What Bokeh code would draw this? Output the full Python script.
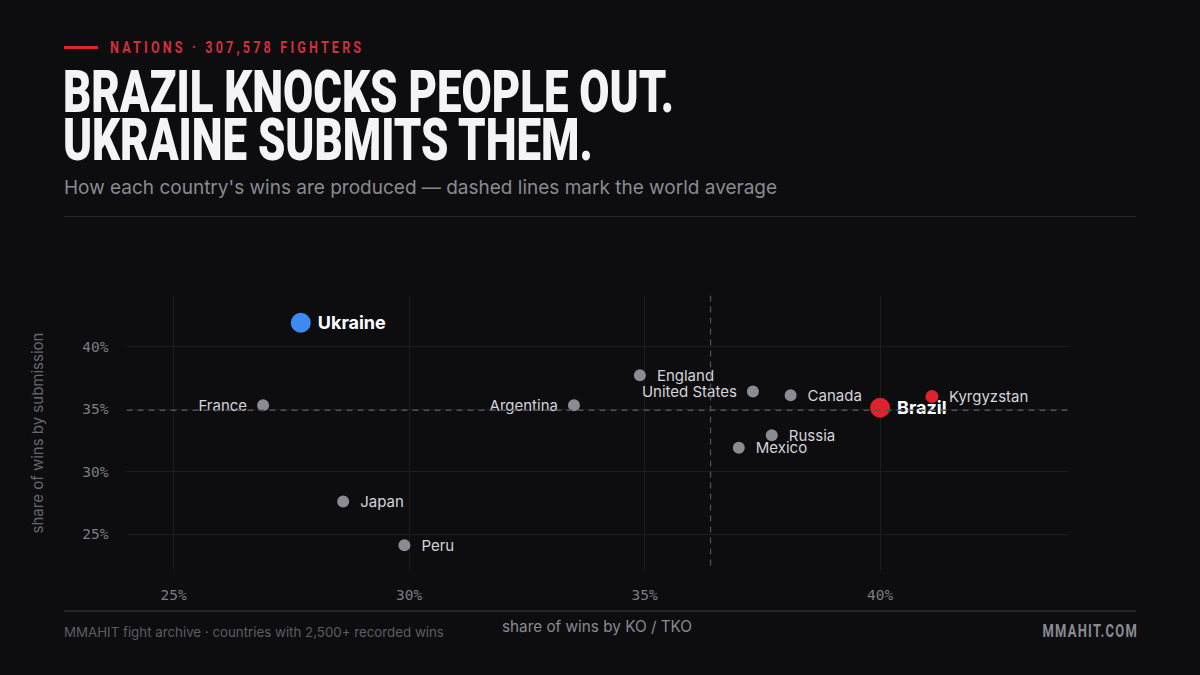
from bokeh.plotting import figure
from bokeh.layouts import column
from bokeh.models import ColumnDataSource, Span, FixedTicker, PrintfTickFormatter, Range1d, Div
from bokeh.core.properties import value
from bokeh.embed import file_html
from bokeh.resources import INLINE

# ---------------- data ----------------
countries = ["Ukraine", "France", "Argentina", "England", "United States", "Canada",
             "Brazil", "Kyrgyzstan", "Russia", "Mexico", "Japan", "Peru"]
ko_share = [27.7, 26.9, 33.5, 34.9, 37.3, 38.1, 40.0, 41.1, 37.7, 37.0, 28.6, 29.9]
sub_share = [41.9, 35.3, 35.3, 37.7, 36.4, 36.1, 35.1, 36.0, 32.9, 31.9, 27.6, 24.1]
world_avg_ko = 36.4
world_avg_sub = 34.9
x_ticks = [25, 30, 35, 40]
y_ticks = [25, 30, 35, 40]

kicker = "NATIONS · 307,578 FIGHTERS"
title_lines = ["BRAZIL KNOCKS PEOPLE OUT.", "UKRAINE SUBMITS THEM."]
subtitle = "How each country's wins are produced — dashed lines mark the world average"
x_title = "share of wins by KO / TKO"
y_title = "share of wins by submission"
source_note = "MMAHIT fight archive · countries with 2,500+ recorded wins"
brand = "MMAHIT.COM"

# ---------------- styles ----------------
BG = "#0d0d10"
GRID = "#1c1c21"
RULE = "#24242a"
RED = "#e0222e"
BLUE = "#3d8bf2"
GRAYPT = "#8b8b93"
LBL = "#d4d4da"
MUTED = "#8a8a92"
DIM = "#5c5c64"
SANS = "Inter"
MONO = "DejaVu Sans Mono"
W = 1200
HEAD_H, PLOT_H = 295, 313
FOOT_H = 675 - HEAD_H - PLOT_H

style = {
    "Ukraine": (BLUE, 20, "right", True),
    "Brazil": (RED, 20, "right", True),
    "Kyrgyzstan": (RED, 13, "right", False),
    "France": (GRAYPT, 12, "left", False),
    "Argentina": (GRAYPT, 12, "left", False),
    "United States": (GRAYPT, 12, "left", False),
}

colors, sizes, aligns, xoffs, fsizes, fstyles, tcolors = [], [], [], [], [], [], []
for c in countries:
    col, sz, side, bold = style.get(c, (GRAYPT, 12, "right", False))
    colors.append(col)
    sizes.append(sz)
    aligns.append("left" if side == "right" else "right")
    xoffs.append(17 if side == "right" else -16)
    fsizes.append("18px" if bold else "15px")
    fstyles.append("bold" if bold else "normal")
    tcolors.append("#ffffff" if bold else LBL)

src = ColumnDataSource(dict(x=ko_share, y=sub_share, name=countries, color=colors,
                            size=sizes, align=aligns, xoff=xoffs, fs=fsizes,
                            fst=fstyles, tc=tcolors))


def box(left, top, text, css):
    return (f'<div style="position:absolute;left:{left}px;top:{top}px;'
            f'white-space:nowrap;margin:0;padding:0;{css}">{text}</div>')


COND_CSS = "font-family:Roboto,sans-serif;font-weight:700;"
TITLE_CSS = ("font-family:Roboto,sans-serif;font-weight:900;font-size:60px;"
             "line-height:48px;color:#f4f4f6;"
             "transform:scaleX(0.73);transform-origin:0 50%;")

# ---------------- header ----------------
head_html = "".join([
    box(64, 46, "", f"width:34px;height:3px;background:{RED};"),
    box(110, 37.6, kicker, COND_CSS + "font-size:17px;line-height:18px;color:#d3303a;"
        "letter-spacing:4.3px;transform:scaleX(0.74);transform-origin:0 50%;"),
    box(63, 68, "<br>".join(title_lines), TITLE_CSS),
    box(64, 176, subtitle, f"font-family:{SANS},sans-serif;font-size:19px;line-height:24px;"
        f"color:{MUTED};"),
    box(64, 216, "", f"width:1072px;height:1px;background:{RULE};"),
])
head = Div(text=f'<div style="position:relative;width:{W}px;height:{HEAD_H}px;">{head_html}</div>',
           width=W, height=HEAD_H, margin=0,
           styles={"background-color": BG, "overflow": "hidden"})

# ---------------- main plot ----------------
p = figure(width=W, height=PLOT_H, output_backend="svg", toolbar_location=None,
           x_range=Range1d(24, 44), y_range=Range1d(22.08, 44.08),
           min_border_left=126, min_border_right=132, min_border_top=0,
           min_border_bottom=PLOT_H - 275, margin=0,
           styles={"background-color": BG})
p.background_fill_color = BG
p.border_fill_color = BG
p.outline_line_color = None
p.outline_line_alpha = 0

for ax, ticks in ((p.xaxis[0], x_ticks), (p.yaxis[0], y_ticks)):
    ax.ticker = FixedTicker(ticks=ticks)
    ax.formatter = PrintfTickFormatter(format="%d%%")
    ax.axis_line_color = None
    ax.major_tick_line_color = None
    ax.minor_tick_line_color = None
    ax.major_label_text_color = "#7c7c84"
    ax.major_label_text_font = MONO
    ax.major_label_text_font_size = "14.5px"
p.xaxis.major_label_standoff = 10
p.yaxis.major_label_standoff = 12
p.yaxis.axis_label = y_title
p.yaxis.axis_label_text_font = SANS
p.yaxis.axis_label_text_font_style = "normal"
p.yaxis.axis_label_text_font_size = "15px"
p.yaxis.axis_label_text_color = "#66666e"
p.yaxis.axis_label_standoff = 32

p.xgrid.ticker = FixedTicker(ticks=x_ticks)
p.ygrid.ticker = FixedTicker(ticks=y_ticks)
p.grid.grid_line_color = GRID
p.grid.grid_line_width = 1

p.add_layout(Span(location=world_avg_ko, dimension="height", line_color="#4e4e56",
                  line_dash="6 5", line_width=1.3))
p.add_layout(Span(location=world_avg_sub, dimension="width", line_color="#4e4e56",
                  line_dash="6 5", line_width=1.3))

p.scatter("x", "y", source=src, size="size", fill_color="color", line_color=None)
p.text("x", "y", text="name", source=src, x_offset="xoff", text_align="align",
       text_baseline="middle", text_font=value(SANS), text_font_size="fs",
       text_font_style="fst", text_color="tc")

# ---------------- footer (page y 608 .. 675) ----------------
foot_html = "".join([
    box(64, 2, "", f"width:1072px;height:1.5px;background:{RULE};"),
    box(64, 15, source_note, f"font-family:{SANS},sans-serif;font-size:13.3px;"
        f"line-height:18px;color:{DIM};"),
    box(447, 9, x_title, f"font-family:{SANS},sans-serif;font-size:15.3px;"
        f"line-height:20px;color:{MUTED};width:300px;text-align:center;"),
    box(900, 14, brand, COND_CSS + "font-size:18px;line-height:18px;color:#8a8a92;"
        "letter-spacing:1.7px;width:238px;text-align:right;"
        "transform:scaleX(0.72);transform-origin:100% 50%;"),
])
foot = Div(text=f'<div style="position:relative;width:{W}px;height:{FOOT_H}px;">{foot_html}</div>',
           width=W, height=FOOT_H, margin=0,
           styles={"background-color": BG, "overflow": "hidden"})

layout = column(head, p, foot, spacing=0, margin=0, styles={"background-color": BG})
with open("out.html", "w", encoding="utf-8") as fh:
    fh.write(file_html(layout, INLINE))
